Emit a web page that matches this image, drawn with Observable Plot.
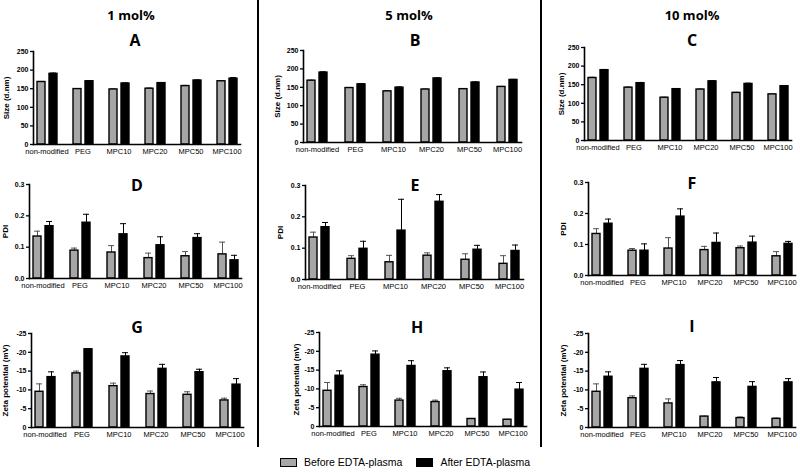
<!DOCTYPE html>
<html><head><meta charset="utf-8">
<script src="https://cdn.jsdelivr.net/npm/d3@7"></script>
<script src="https://cdn.jsdelivr.net/npm/@observablehq/plot@0.6"></script>
<style>
html,body{margin:0;padding:0;background:#fff;}
body{width:800px;height:473px;position:relative;overflow:hidden;font-family:"Liberation Sans",Arial,sans-serif;color:#000;}
.sep{position:absolute;top:0;width:2px;height:447px;background:#000;}
.hdr{position:absolute;font-family:"Liberation Sans Narrow","Open Sans",sans-serif;font-weight:bold;font-size:13px;transform:translate(-50%,-50%);white-space:nowrap;}
.let{position:absolute;font-family:"Open Sans","Liberation Sans",sans-serif;font-weight:bold;font-size:16px;transform:translate(-50%,-50%);}
.panel{position:absolute;}
.panel svg{overflow:visible;}
.panel g[aria-label="y-axis label"] text{font-weight:bold;font-size:8px;}
.panel g[aria-label="y-axis tick label"] text{font-weight:bold;font-size:7px;}
.panel g[aria-label="y-axis tick"]{stroke-width:1.3;}
#legend{position:absolute;left:0;width:810px;top:456px;display:flex;justify-content:center;align-items:center;font-size:10.5px;}
#legend .sw{width:15px;height:7px;border:1.5px solid #000;margin-right:7px;}
#legend .it{display:flex;align-items:center;margin:0 7px;}
</style></head><body>
<div id="root"></div>
<div id="legend"></div>
<script>
// ---------- data ----------
const categories = ["non-modified", "PEG", "MPC10", "MPC20", "MPC50", "MPC100"];
const seriesNames = ["Before EDTA-plasma", "After EDTA-plasma"];
const columnTitles = ["1 mol%", "5 mol%", "10 mol%"];
const panelLetters = ["A", "B", "C", "D", "E", "F", "G", "H", "I"];
const sizeTicks = [0, 50, 100, 150, 200, 250];
const pdiTicks = [0, 0.1, 0.2, 0.3];
const zetaTicks = [0, -5, -10, -15, -20, -25];
const yTitles = {size: "Size (d.nm)", pdi: "PDI", zeta: "Zeta potential (mV)"};

// Size (d.nm)
const A_before = [168, 149, 148, 150, 157, 170];
const A_beforeErr = [1.5, 1.5, 1.5, 2, 2, 1.5];
const A_after = [190, 170, 164, 165, 172, 177];
const A_afterErr = [2, 2, 1.5, 1.5, 1.5, 3];
const B_before = [168, 148, 139, 144, 145, 151];
const B_beforeErr = [1.5, 1.5, 1.5, 1.5, 1.5, 1.5];
const B_after = [190, 158, 149, 174, 163, 170];
const B_afterErr = [2, 2, 2, 1.5, 1.5, 1.5];
const C_before = [168, 142, 115, 137, 128, 124];
const C_beforeErr = [2, 2, 1.5, 1.5, 1.5, 1];
const C_after = [189, 154, 138, 159, 152, 146];
const C_afterErr = [2, 2, 1.5, 1.5, 2, 1.5];
// PDI
const D_before = [0.134, 0.089, 0.083, 0.065, 0.071, 0.077];
const D_beforeErr = [0.017, 0.008, 0.022, 0.016, 0.015, 0.039];
const D_after = [0.167, 0.178, 0.141, 0.106, 0.129, 0.058];
const D_afterErr = [0.015, 0.027, 0.034, 0.027, 0.014, 0.016];
const E_before = [0.134, 0.066, 0.055, 0.076, 0.063, 0.050];
const E_beforeErr = [0.017, 0.010, 0.022, 0.009, 0.019, 0.026];
const E_after = [0.167, 0.098, 0.156, 0.248, 0.095, 0.091];
const E_afterErr = [0.015, 0.024, 0.100, 0.023, 0.014, 0.019];
const F_before = [0.134, 0.080, 0.087, 0.082, 0.088, 0.062];
const F_beforeErr = [0.017, 0.007, 0.035, 0.012, 0.007, 0.015];
const F_after = [0.167, 0.080, 0.190, 0.105, 0.106, 0.102];
const F_afterErr = [0.015, 0.022, 0.025, 0.032, 0.021, 0.008];
// Zeta potential (mV)
const G_before = [-9.5, -14.4, -11.0, -8.9, -8.7, -7.2];
const G_beforeErr = [2.1, 0.6, 0.8, 0.8, 0.8, 0.6];
const G_after = [-13.4, -20.8, -18.9, -15.6, -14.7, -11.4];
const G_afterErr = [1.4, 0.1, 1.0, 1.2, 0.8, 1.6];
const H_before = [-9.5, -10.5, -6.9, -6.5, -2.0, -1.8];
const H_beforeErr = [2.2, 0.6, 0.6, 0.5, 0.1, 0.1];
const H_after = [-13.5, -19.1, -16.1, -14.7, -13.1, -9.8];
const H_afterErr = [1.3, 1.0, 1.4, 0.9, 1.4, 1.9];
const I_before = [-9.5, -7.8, -6.4, -2.9, -2.5, -2.3];
const I_beforeErr = [2.1, 0.6, 1.2, 0.1, 0.3, 0.2];
const I_after = [-13.5, -15.6, -16.6, -12.0, -10.8, -12.0];
const I_afterErr = [1.3, 1.2, 1.2, 1.3, 1.4, 1.0];

// ---------- layout (page positions, px) ----------
const GRAY = "#a6a6a6";
const colBox = [{left: 0, width: 255}, {left: 262, width: 275}, {left: 545, width: 255}];
const headerX = [131, 409, 692];
const sepX = [257, 540];
const layout = {
  A: {col: 0, ml: 32, mr: 14, pt: 51, pb: 144, lo: 30, lx: 135, ly: 40},
  B: {col: 1, ml: 41, mr: 15, pt: 50, pb: 142, lo: 29, lx: 415, ly: 40},
  C: {col: 2, ml: 37, mr: 8, pt: 47, pb: 140, lo: 26, lx: 692, ly: 40},
  D: {col: 0, ml: 28, mr: 13, pt: 184, pb: 278, lo: 27, lx: 137, ly: 185},
  E: {col: 1, ml: 42, mr: 12, pt: 185, pb: 279, lo: 28, lx: 415, ly: 185},
  F: {col: 2, ml: 42, mr: 5, pt: 182, pb: 275, lo: 28, lx: 692, ly: 183},
  G: {col: 0, ml: 30, mr: 10, pt: 333, pb: 427, lo: 29, lx: 137, ly: 327},
  H: {col: 1, ml: 55, mr: 9, pt: 332, pb: 426, lo: 26, lx: 417, ly: 327},
  I: {col: 2, ml: 42, mr: 5, pt: 333, pb: 427, lo: 28, lx: 692, ly: 326}
};

const root = document.getElementById("root");

function yScale(kind) {
  if (kind === "size") return {domain: [0, 250], ticks: sizeTicks, tickFormat: d => String(d)};
  if (kind === "pdi") return {domain: [0, 0.3], ticks: pdiTicks, tickFormat: d => d.toFixed(1)};
  return {domain: [0, -25], ticks: zetaTicks, tickFormat: d => String(d)};
}

function makePanel(letter, kind, before, beforeErr, after, afterErr) {
  const L = layout[letter];
  const box = colBox[L.col];
  const rows = [];
  categories.forEach((c, i) => {
    rows.push({cat: c, s: seriesNames[0], v: before[i], e: before[i] + Math.sign(before[i]) * beforeErr[i]});
    rows.push({cat: c, s: seriesNames[1], v: after[i], e: after[i] + Math.sign(after[i]) * afterErr[i]});
  });
  const mt = 6, mb = 18;
  const chart = Plot.plot({
    width: box.width,
    height: (L.pb - L.pt) + mt + mb,
    marginLeft: L.ml, marginRight: L.mr, marginTop: mt, marginBottom: mb,
    style: {fontFamily: "Liberation Sans, Arial, sans-serif", fontSize: "7.5px", color: "#000", background: "transparent", overflow: "visible"},
    fx: {domain: categories, paddingInner: 0.26, paddingOuter: 0, axis: "bottom", tickSize: 0, tickPadding: 4, label: null},
    x: {domain: seriesNames, paddingInner: 0.375, paddingOuter: 0.31, axis: null},
    y: {...yScale(kind), tickSize: 3, tickPadding: 2, label: yTitles[kind], labelAnchor: "center", labelOffset: L.lo, labelArrow: "none"},
    color: {domain: seriesNames, range: [GRAY, "#000"]},
    marks: [
      Plot.ruleX(rows, {fx: "cat", x: "s", y1: "v", y2: "e", stroke: d => d.s === seriesNames[0] ? "#555" : "#000", strokeWidth: 1}),
      Plot.tickY(rows, {fx: "cat", x: "s", y: "e", stroke: d => d.s === seriesNames[0] ? "#555" : "#000", strokeWidth: 1, insetLeft: 1, insetRight: 1}),
      Plot.barY(rows, {fx: "cat", x: "s", y: "v", fill: "s", stroke: "#000", strokeWidth: 1.4}),
      Plot.frame({anchor: "bottom", facet: "super", stroke: "#000", strokeWidth: 1.6}),
      Plot.frame({anchor: "left", facet: "super", stroke: "#000", strokeWidth: 1.6})
    ]
  });
  const div = document.createElement("div");
  div.className = "panel";
  div.style.left = box.left + "px";
  div.style.top = (L.pt - mt) + "px";
  div.appendChild(chart);
  root.appendChild(div);
  const t = document.createElement("div");
  t.className = "let";
  t.textContent = letter;
  t.style.left = L.lx + "px";
  t.style.top = L.ly + "px";
  root.appendChild(t);
}

makePanel("A", "size", A_before, A_beforeErr, A_after, A_afterErr);
makePanel("B", "size", B_before, B_beforeErr, B_after, B_afterErr);
makePanel("C", "size", C_before, C_beforeErr, C_after, C_afterErr);
makePanel("D", "pdi", D_before, D_beforeErr, D_after, D_afterErr);
makePanel("E", "pdi", E_before, E_beforeErr, E_after, E_afterErr);
makePanel("F", "pdi", F_before, F_beforeErr, F_after, F_afterErr);
makePanel("G", "zeta", G_before, G_beforeErr, G_after, G_afterErr);
makePanel("H", "zeta", H_before, H_beforeErr, H_after, H_afterErr);
makePanel("I", "zeta", I_before, I_beforeErr, I_after, I_afterErr);

columnTitles.forEach((t, i) => {
  const d = document.createElement("div");
  d.className = "hdr";
  d.textContent = t;
  d.style.left = headerX[i] + "px";
  d.style.top = "15px";
  root.appendChild(d);
});
sepX.forEach(x => {
  const d = document.createElement("div");
  d.className = "sep";
  d.style.left = x + "px";
  root.appendChild(d);
});

const legend = document.getElementById("legend");
seriesNames.forEach((s, i) => {
  const it = document.createElement("div");
  it.className = "it";
  const sw = document.createElement("div");
  sw.className = "sw";
  sw.style.background = i === 0 ? GRAY : "#000";
  const tx = document.createElement("span");
  tx.textContent = s;
  it.appendChild(sw); it.appendChild(tx);
  legend.appendChild(it);
});
</script>
</body></html>
